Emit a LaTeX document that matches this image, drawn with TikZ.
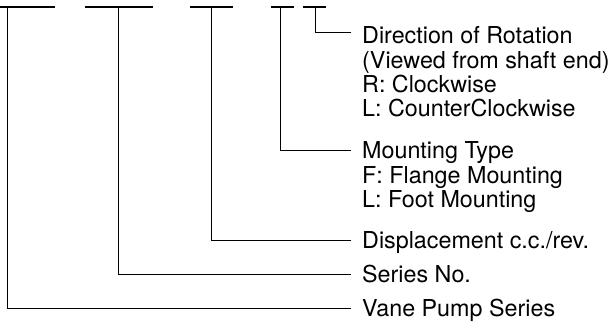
\documentclass[tikz,border=0pt]{standalone}
\usepackage{fontspec}
\setmainfont{TeX Gyre Heros}
\usetikzlibrary{positioning}

\begin{document}
\begin{tikzpicture}[x=1pt, y=1pt,
    lbl/.style={inner sep=0pt, text height=17pt, text depth=0pt, anchor=south west,
      font=\fontsize{23.3}{24}\selectfont},
    sub/.style={lbl, below=7pt of #1.south west, anchor=north west},
    bar/.style={line width=2.6pt},
    lead/.style={line width=0.9pt, shorten >=11pt}]
      \useasboundingbox (0,0) rectangle (612,324);

      % code fields
      \draw[bar] (0,317) -- (55,317);
      \draw[bar] (85,317) -- (153,317);
      \draw[bar] (190,317) -- (233,317);
      \draw[bar] (271,317) -- (294,317);
      \draw[bar] (303,317) -- (326,317);
      \coordinate (f1) at (7,317);
      \coordinate (f2) at (118,317);
      \coordinate (f3) at (211,317);
      \coordinate (f4) at (280,317);
      \coordinate (f5) at (315,317);

      % legend
      \node[lbl] (dir) at (362,280) {Direction of Rotation};
      \node[sub=dir] (dir2) {(Viewed from shaft end)};
      \node[sub=dir2] (dir3) {R: Clockwise};
      \node[sub=dir3] (dir4) {L: CounterClockwise};
      \node[lbl] (mnt) at (362,165) {Mounting Type};
      \node[sub=mnt] (mnt2) {F: Flange Mounting};
      \node[sub=mnt2] (mnt3) {L: Foot Mounting};
      \node[lbl] (disp) at (362,75) {Displacement c.c./rev.};
      \node[lbl] (ser) at (362,41) {Series No.};
      \node[lbl] (vps) at (362,7) {Vane Pump Series};

      \draw[lead] (f5) |- ([yshift=3pt]dir.west);
      \draw[lead] (f4) |- (mnt.west);
      \draw[lead] (f3) |- (disp.west);
      \draw[lead] (f2) |- (ser.west);
      \draw[lead] (f1) |- (vps.west);
\end{tikzpicture}
\end{document}
